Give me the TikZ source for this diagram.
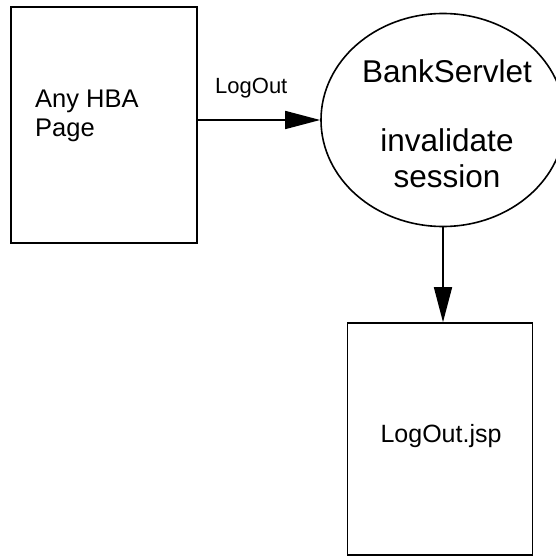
\documentclass[tikz,border=0pt]{standalone}
\usepackage{fontspec}
\setmainfont{Liberation Sans}
\usetikzlibrary{arrows.meta,shapes.geometric}

\tikzset{
  box/.style={draw, line width=1.6pt, rectangle, inner sep=0pt},
  oval/.style={draw, line width=1.6pt, ellipse, inner sep=0pt},
  flow/.style={line width=1.6pt, -{Triangle[length=35pt, width=18pt]}},
  txt/.style={inner sep=0pt, anchor=base}
}

\begin{document}
\begin{tikzpicture}[x=1pt, y=-1pt]
  \useasboundingbox (0,0) rectangle (556,556);

  % pages
  \node[box, minimum width=186pt, minimum height=236pt] (page) at (104,125) {};
  \node[box, minimum width=185pt, minimum height=232pt] (out) at (440,439) {};

  % servlet
  \node[oval, minimum width=244pt, minimum height=213pt] (servlet) at (443,120) {};

  % texts
  \node[txt, anchor=base west, font=\fontsize{25.5}{29}\selectfont] (pageA) at (35,108) {Any HBA};
  \node[txt, anchor=base west, font=\fontsize{25.5}{29}\selectfont] (pageB) at (35,137) {Page};

  \node[txt, font=\fontsize{31.5}{35}\selectfont] (sA) at (447,83) {BankServlet};
  \node[txt, font=\fontsize{31.5}{35}\selectfont] (sB) at (447,152) {invalidate};
  \node[txt, font=\fontsize{31.5}{35}\selectfont] (sC) at (447,187) {session};

  \node[txt, font=\fontsize{25}{29}\selectfont] (outT) at (441,442) {LogOut.jsp};

  % connectors
  \draw[flow] (page.east |- servlet.west) -- (servlet.west);
  \node[txt, anchor=base west, font=\fontsize{22}{26}\selectfont] (lbl) at (215,94) {LogOut};
  \draw[flow] (servlet.south) -- (servlet.south |- out.north);
\end{tikzpicture}
\end{document}
